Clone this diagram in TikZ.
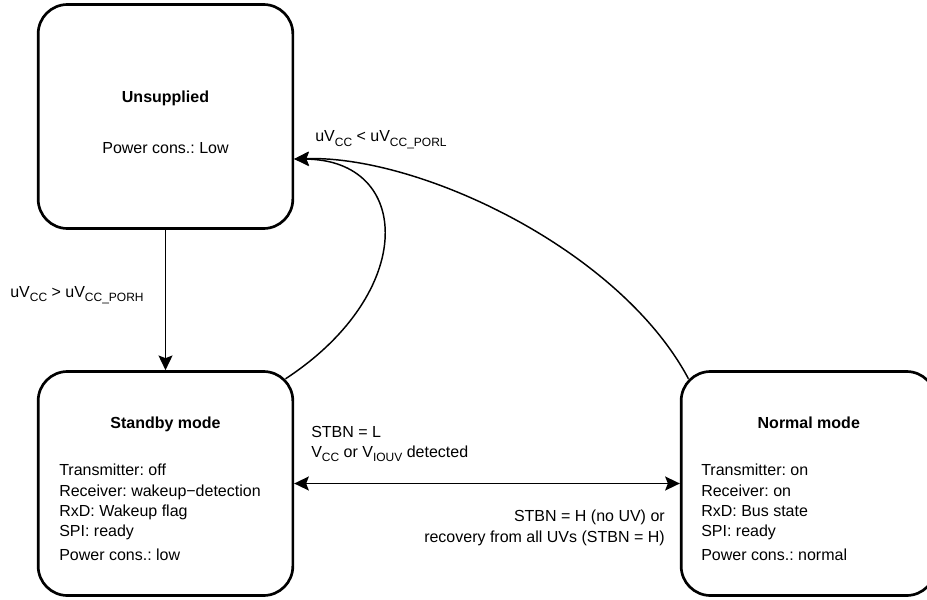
\documentclass[tikz,border=0pt]{standalone}
\usepackage{fontspec}
\setmainfont{Liberation Sans}
\usetikzlibrary{calc,arrows.meta}
\frenchspacing
\newcommand{\lo}[1]{\raisebox{-3.2pt}{\fontsize{9pt}{9pt}\selectfont #1}}
\tikzset{
  statebox/.style={draw,line width=2pt,rounded corners=22pt,minimum width=191pt,minimum height=168pt},
  txt/.style={font=\fontsize{12pt}{15.2pt}\selectfont,inner sep=0pt},
  ttl/.style={font=\fontsize{12pt}{15.2pt}\selectfont\bfseries,inner sep=0pt,anchor=base},
  trans/.style={line width=1.1pt}
}
\begin{document}
\begin{tikzpicture}[x=0.75pt,y=-0.75pt,>={Stealth[length=11pt,width=10.5pt,inset=2pt]}]
\clip (0,0) rectangle (927,599);
\node[statebox] (un) at (165.5,116.5) {};
\node[statebox] (sb) at (165.5,483.5) {};
\node[statebox] (nm) at (808.5,483.5) {};
% texts inside the states
\node[ttl] (unname) at (165.5,103) {Unsupplied};
\node[txt,anchor=base] (uninfo) at (165.5,154) {Power cons.: Low};
\node[ttl] (sbname) at (165.5,428) {Standby mode};
\node[txt,align=left,anchor=north west] (sbinfo) at (59,464)
  {Transmitter: off\\Receiver: wakeup−detection\\RxD: Wakeup flag\\SPI: ready\\[2.8pt]Power cons.: low};
\node[ttl] (nmname) at (808.8,428) {Normal mode};
\node[txt,align=left,anchor=north west] (nminfo) at (701,464)
  {Transmitter: on\\Receiver: on\\RxD: Bus state\\SPI: ready\\[2.8pt]Power cons.: normal};
% transitions
\coordinate (tip) at ($(un.east)+(0,42.5)$);
\coordinate (sbc) at ($(sb.north east)+(-8.6,8.6)$);
\coordinate (nmc) at ($(nm.north west)+(8.6,8.6)$);
\draw[trans,->] (un) -- (sb);
\draw[trans,<->] (sb) -- (nm);
\draw[trans,->] (sbc) .. controls (418,292) and (412,160) .. (tip);
\draw[trans,->] (nmc) .. controls (620,250) and (420,155) .. (tip);
\node[txt,anchor=base west] (porh) at (10,297) {uV\lo{CC} > uV\lo{CC\_PORH}};
\node[txt,anchor=base west] (porl) at (315,142) {uV\lo{CC} < uV\lo{CC\_PORL}};
\node[txt,align=left,anchor=north west] (tostb) at (311,426)
  {STBN = L\\V\lo{CC} or V\lo{IOUV} detected};
\node[txt,align=right,anchor=north east] (tonm) at (665,510)
  {STBN = H (no UV) or\\recovery from all UVs (STBN = H)};
\end{tikzpicture}
\end{document}
